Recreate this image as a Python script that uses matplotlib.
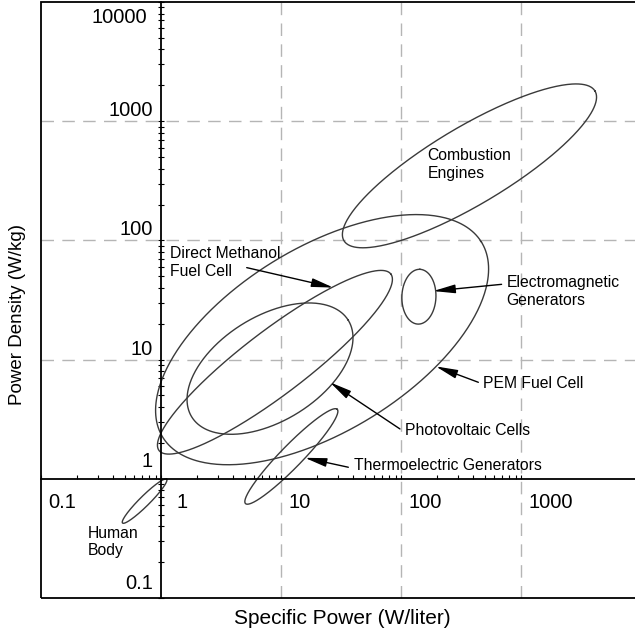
import numpy as np
import matplotlib
matplotlib.use("Agg")
import matplotlib.pyplot as plt
from matplotlib.patches import Rectangle
from matplotlib.ticker import FixedLocator, NullFormatter

plt.rcParams['font.family'] = ['Liberation Sans', 'DejaVu Sans']

# technology regions: centre (W/liter, W/kg), semi-axes in decades, tilt in degrees
names = ["Combustion Engines", "PEM Fuel Cell", "Direct Methanol Fuel Cell",
         "Photovoltaic Cells", "Electromagnetic Generators",
         "Thermoelectric Generators", "Human Body"]
center_power = [372, 22.0, 8.9, 8.1, 141, 12.2, 0.73]
center_density = [422, 14.7, 9.5, 8.4, 33.7, 1.54, 0.65]
major_decades = [1.22, 1.56, 1.217, 0.768, 0.23, 0.55, 0.26]
minor_decades = [0.325, 0.77, 0.267, 0.438, 0.142, 0.092, 0.042]
tilt_deg = [31, 31.7, 37.5, 32, 88, 46, 45]

x_tick_vals = [0.1, 1, 10, 100, 1000]
x_tick_text = ["0.1", "1", "10", "100", "1000"]
y_tick_vals = [0.1, 1, 10, 100, 1000, 10000]
y_tick_text = ["0.1", "1", "10", "100", "1000", "10000"]
grid_vals = [10, 100, 1000]

fig = plt.figure(figsize=(6.35, 6.32), dpi=100)
ax = fig.add_axes([41 / 635, 1 - 598 / 632, 597 / 635, 596 / 632])
ax.set_xscale("log")
ax.set_yscale("log")
ax.set_xlim(0.1, 10 ** 3.975)
ax.set_ylim(0.1, 1e4)

# dashed grid
for g in grid_vals:
    ax.axvline(g, color="#b5b5b5", lw=1, dashes=(9, 6), zorder=0)
    ax.axhline(g, color="#b5b5b5", lw=1, dashes=(9, 6), zorder=0)

# ellipses drawn in log space
t = np.linspace(0, 2 * np.pi, 400)
for i in range(len(names)):
    th = np.radians(tilt_deg[i])
    u = major_decades[i] * np.cos(t)
    v = minor_decades[i] * np.sin(t)
    lx = np.log10(center_power[i]) + u * np.cos(th) - v * np.sin(th)
    ly = np.log10(center_density[i]) + u * np.sin(th) + v * np.cos(th)
    ax.plot(10 ** lx, 10 ** ly, color="#3a3a3a", lw=1.0, zorder=2)

# axes crossing at (1, 1)
for s in ["top", "right"]:
    ax.spines[s].set_visible(False)
ax.spines["left"].set_position(("data", 1))
ax.spines["bottom"].set_position(("data", 1))
ax.spines["left"].set_linewidth(1.3)
ax.spines["bottom"].set_linewidth(1.3)
ax.add_patch(Rectangle((0, 0), 1, 1, transform=ax.transAxes, fill=False,
                       lw=1.3, edgecolor="black", clip_on=False, zorder=5))

decades = [0.1, 1, 10, 100, 1000]
x_minor = [d * k for d in decades[:-1] for k in range(2, 10)]
y_minor = [d * k for d in decades for k in range(2, 10)]
ax.xaxis.set_major_locator(FixedLocator(x_tick_vals))
ax.xaxis.set_minor_locator(FixedLocator(x_minor))
ax.yaxis.set_major_locator(FixedLocator(y_tick_vals))
ax.yaxis.set_minor_locator(FixedLocator(y_minor))
ax.xaxis.set_minor_formatter(NullFormatter())
ax.yaxis.set_minor_formatter(NullFormatter())
ax.tick_params(axis="x", which="both", direction="in", length=3, width=0.8,
               labelbottom=False)
ax.tick_params(axis="y", which="both", direction="inout", length=5, width=0.8,
               labelleft=False)

# tick labels placed next to the crossing axes
x_off = {"1": (15, -29)}
for v, s in zip(x_tick_vals, x_tick_text):
    dx, dy = x_off.get(s, (7, -29))
    ax.annotate(s, (v, 1), xytext=(dx, dy), textcoords="offset pixels",
                ha="left", va="baseline", fontsize=14.5)
y_off = {"1": (-8, 12), "0.1": (-8, 9), "10000": (-14, -21)}
for v, s in zip(y_tick_vals, y_tick_text):
    dx, dy = y_off.get(s, (-8, 5))
    ax.annotate(s, (1, v), xytext=(dx, dy), textcoords="offset pixels",
                ha="right", va="baseline", fontsize=14.5, annotation_clip=False)

ax.set_xlabel("Specific Power (W/liter)", fontsize=15, va="center")
ax.xaxis.set_label_coords(0.504, -0.034)
ax.set_ylabel("Power Density (W/kg)", fontsize=13.5, va="center")
ax.yaxis.set_label_coords(-0.04, 0.475)

# region labels
fs = 11.3
ax.text(167, 432, "Combustion\nEngines", fontsize=fs, va="center", linespacing=1.2)
ax.text(1.19, 65.5, "Direct Methanol\nFuel Cell", fontsize=fs, va="center", linespacing=1.25)
ax.text(760, 37.3, "Electromagnetic\nGenerators", fontsize=fs, va="center", linespacing=1.2)
ax.text(482, 6.32, "PEM Fuel Cell", fontsize=fs, va="center")
ax.text(109, 2.54, "Photovoltaic Cells", fontsize=fs, va="center")
ax.text(40.8, 1.29, "Thermoelectric Generators", fontsize=fs, va="center")
ax.text(0.243, 0.294, "Human\nBody", fontsize=fs, va="center", linespacing=1.2)

arrow = dict(arrowstyle="-|>,head_length=1.1,head_width=0.22", color="black",
             lw=1.0, shrinkA=0, shrinkB=0, mutation_scale=12)
ax.annotate("", xy=(27.3, 40.2), xytext=(5.18, 59.1), arrowprops=arrow)
ax.annotate("", xy=(186, 37.6), xytext=(689, 42.8), arrowprops=arrow)
ax.annotate("", xy=(195, 8.77), xytext=(441, 6.45), arrowprops=arrow)
ax.annotate("", xy=(25.6, 6.45), xytext=(98, 2.62), arrowprops=arrow)
ax.annotate("", xy=(15.8, 1.5), xytext=(36.4, 1.25), arrowprops=arrow)

fig.savefig("out.png", dpi=100)
